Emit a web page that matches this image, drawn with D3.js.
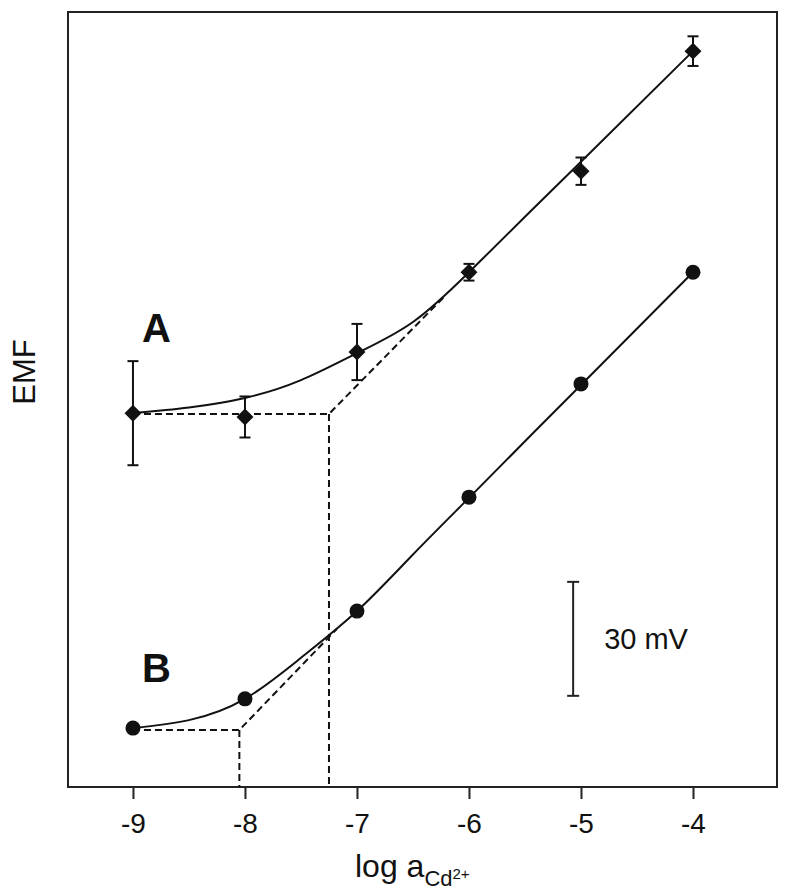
<!DOCTYPE html>
<html>
<head>
<meta charset="utf-8">
<script src="https://cdn.jsdelivr.net/npm/d3@7"></script>
<style>
  html, body { margin: 0; padding: 0; background: #fff; }
  svg { display: block; font-family: "Liberation Sans", Arial, Helvetica, sans-serif; }
</style>
</head>
<body>
<svg id="chart" width="792" height="896"></svg>
<script>
// ---- data (EMF in mV; y axis has no ticks) ----
const logA   = [-9, -8, -7, -6, -5, -4];
const emfA   = [98.4, 97.4, 114.5, 135.5, 162.1, 193.7];
const errA   = [13.7, 5.4, 7.4, 2.2, 3.6, 3.9];
const emfB   = [15.5, 23.2, 46.3, 76.3, 106.1, 135.5];

// fitted response curves
const fitX   = [-9, -8.5, -8, -7.5, -7, -6.5, -6, -5.5, -5, -4];
const fitA   = [98.4, 99.9, 102.4, 107.1, 114.2, 122.4, 135.5, 150.1, 164.6, 193.7];
const fitB   = [15.5, 17.6, 23.2, 34.0, 46.3, 61.2, 76.1, 91.0, 105.8, 135.5];

// detection-limit construction lines
const limitX     = [-7.25, -8.05];       // A, B
const plateau    = [98.2, 15.0];         // A, B
const slopeEndX  = [-6.23, -7.18];
const slopeEndY  = [128.8, 41.6];

const xTicks = [-9, -8, -7, -6, -5, -4];
const scaleBar = { x: -5.07, y0: 24, y1: 54, label: "30 mV" };

// ---- layout ----
const svg = d3.select("#chart");
const L = 68, R = 777, T = 12, B = 787;
const x = d3.scaleLinear().domain([-9.58, -3.25]).range([L, R]);
const y = d3.scaleLinear().domain([0, 204]).range([B, T]);

const ink = "#111";

// frame
svg.append("rect").attr("x", L).attr("y", T).attr("width", R - L).attr("height", B - T)
  .attr("fill", "none").attr("stroke", "#222").attr("stroke-width", 2);

// x axis
const xAxis = d3.axisBottom(x).tickValues(xTicks).tickSize(12).tickPadding(14)
  .tickFormat(d => d3.format("d")(d).replace("−", "-"));
const gx = svg.append("g").attr("transform", `translate(0,${B})`).call(xAxis);
gx.select(".domain").remove();
gx.selectAll(".tick line").attr("stroke", "#222").attr("stroke-width", 2);
gx.selectAll(".tick text").attr("fill", ink).attr("font-size", 28)
  .attr("font-family", "'Liberation Sans', Arial, sans-serif");

// axis titles
const xt = svg.append("text").attr("x", 355).attr("y", 877).attr("fill", ink)
  .attr("font-size", 32);
xt.append("tspan").text("log a");
xt.append("tspan").attr("font-size", 22).attr("dy", 9).text("Cd");
xt.append("tspan").attr("font-size", 15).attr("dy", -7).text("2+");

svg.append("text").attr("transform", "translate(35,372) rotate(-90)")
  .attr("text-anchor", "middle").attr("font-size", 31).attr("fill", ink).text("EMF");

// dashed construction lines
const dashed = svg.append("g").attr("fill", "none").attr("stroke", ink)
  .attr("stroke-width", 2).attr("stroke-dasharray", "7,4");
[0, 1].forEach(i => {
  dashed.append("path").attr("d", d3.line()([
    [x(-9), y(plateau[i])], [x(limitX[i]), y(plateau[i])], [x(slopeEndX[i]), y(slopeEndY[i])]
  ]));
  dashed.append("line").attr("x1", x(limitX[i])).attr("x2", x(limitX[i]))
    .attr("y1", y(plateau[i])).attr("y2", y(0));
});

// fitted curves
const curve = d3.line().x(d => x(d[0])).y(d => y(d[1])).curve(d3.curveNatural);
svg.append("path").attr("d", curve(fitX.map((v, i) => [v, fitA[i]])))
  .attr("fill", "none").attr("stroke", ink).attr("stroke-width", 2);
svg.append("path").attr("d", curve(fitX.map((v, i) => [v, fitB[i]])))
  .attr("fill", "none").attr("stroke", ink).attr("stroke-width", 2);

// error bars (A)
const eb = svg.append("g").attr("stroke", ink).attr("stroke-width", 2);
logA.forEach((v, i) => {
  const cx = x(v), yt = y(emfA[i] + errA[i]), yb = y(emfA[i] - errA[i]);
  eb.append("line").attr("x1", cx).attr("x2", cx).attr("y1", yt).attr("y2", yb);
  eb.append("line").attr("x1", cx - 5.5).attr("x2", cx + 5.5).attr("y1", yt).attr("y2", yt);
  eb.append("line").attr("x1", cx - 5.5).attr("x2", cx + 5.5).attr("y1", yb).attr("y2", yb);
});

// markers A: diamonds (rotated squares)
const sq = d3.symbol().type(d3.symbolSquare).size(144);
svg.append("g").selectAll("path").data(logA).join("path")
  .attr("d", sq())
  .attr("transform", (d, i) => `translate(${x(d)},${y(emfA[i])}) rotate(45)`)
  .attr("fill", ink);

// markers B: circles
svg.append("g").selectAll("circle").data(logA).join("circle")
  .attr("cx", d => x(d)).attr("cy", (d, i) => y(emfB[i])).attr("r", 7.5)
  .attr("fill", ink);

// series labels
svg.append("text").attr("x", x(-8.79)).attr("y", y(117.1)).attr("text-anchor", "middle")
  .attr("font-size", 40).attr("font-weight", "bold").attr("fill", ink).text("A");
svg.append("text").attr("x", x(-8.79)).attr("y", y(27.6)).attr("text-anchor", "middle")
  .attr("font-size", 40).attr("font-weight", "bold").attr("fill", ink).text("B");

// 30 mV scale bar
const sb = svg.append("g").attr("stroke", "#222").attr("stroke-width", 2);
const sx = x(scaleBar.x);
sb.append("line").attr("x1", sx).attr("x2", sx).attr("y1", y(scaleBar.y0)).attr("y2", y(scaleBar.y1));
sb.append("line").attr("x1", sx - 6).attr("x2", sx + 6).attr("y1", y(scaleBar.y0)).attr("y2", y(scaleBar.y0));
sb.append("line").attr("x1", sx - 6).attr("x2", sx + 6).attr("y1", y(scaleBar.y1)).attr("y2", y(scaleBar.y1));
svg.append("text").attr("x", sx + 31).attr("y", y((scaleBar.y0 + scaleBar.y1) / 2) + 10)
  .attr("font-size", 29).attr("fill", ink).text(scaleBar.label);
</script>
</body>
</html>
